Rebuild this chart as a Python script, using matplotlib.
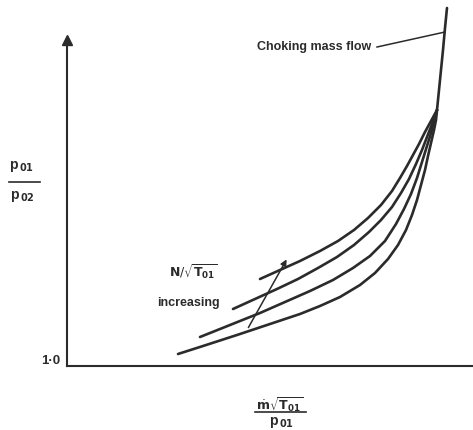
import matplotlib.pyplot as plt

# Compressor characteristic (schematic): pressure ratio vs non-dimensional mass flow.
# Values in arbitrary units.

# constant N/sqrt(T01) lines, lowest speed first
flow_1 = [1.11, 1.36, 1.70, 2.03, 2.33, 2.53, 2.73, 2.93, 3.08, 3.21, 3.31,
          3.39, 3.45, 3.50, 3.54, 3.58, 3.61, 3.64, 3.67, 3.69, 3.70]
ratio_1 = [1.12, 1.20, 1.31, 1.42, 1.52, 1.60, 1.69, 1.81, 1.93, 2.07, 2.21,
           2.36, 2.51, 2.66, 2.81, 2.96, 3.10, 3.23, 3.36, 3.46, 3.56]

flow_2 = [1.33, 1.63, 1.93, 2.18, 2.43, 2.66, 2.86, 3.03, 3.18,
          3.29, 3.37, 3.44, 3.50, 3.55, 3.60, 3.64, 3.67, 3.70]
ratio_2 = [1.29, 1.41, 1.53, 1.64, 1.75, 1.86, 1.98, 2.10, 2.25,
           2.42, 2.57, 2.72, 2.88, 3.04, 3.20, 3.33, 3.44, 3.56]

flow_3 = [1.66, 1.88, 2.10, 2.31, 2.51, 2.70, 2.87, 3.02, 3.14,
          3.25, 3.34, 3.42, 3.49, 3.55, 3.60, 3.65, 3.70]
ratio_3 = [1.57, 1.67, 1.77, 1.87, 1.98, 2.09, 2.21, 2.34, 2.46,
           2.59, 2.73, 2.87, 3.02, 3.16, 3.29, 3.42, 3.56]

flow_4 = [1.93, 2.13, 2.33, 2.53, 2.71, 2.87, 3.01, 3.14,
          3.25, 3.33, 3.40, 3.46, 3.52, 3.58, 3.64, 3.70]
ratio_4 = [1.87, 1.96, 2.05, 2.15, 2.25, 2.36, 2.48, 2.61,
           2.75, 2.88, 3.00, 3.11, 3.22, 3.34, 3.45, 3.56]

# choking mass flow line (all speed lines merge into it)
choke_flow = [3.70, 3.72, 3.74, 3.76, 3.78, 3.80]
choke_ratio = [3.56, 3.76, 3.96, 4.16, 4.38, 4.58]

INK = "#2b2b2b"
FONT = dict(family=["Liberation Sans", "DejaVu Sans"], weight="bold", color=INK)
plt.rcParams["mathtext.fontset"] = "dejavusans"

fig = plt.figure(figsize=(4.73, 4.30), dpi=100)
ax = fig.add_axes([67 / 473, 64 / 430, (473 - 67) / 473, (366 - 10) / 430])
ax.set_xlim(0, 4.06)
ax.set_ylim(1.0, 4.56)

line_kw = dict(color=INK, lw=1.9, solid_capstyle="round", solid_joinstyle="round", clip_on=False)
for fx, fy in [(flow_1, ratio_1), (flow_2, ratio_2), (flow_3, ratio_3), (flow_4, ratio_4)]:
    ax.plot(fx, fy, **line_kw)
ax.plot(choke_flow, choke_ratio, **line_kw)

# axes: only left and bottom, y axis ends in an arrow
for side in ("top", "right"):
    ax.spines[side].set_visible(False)
for side in ("left", "bottom"):
    ax.spines[side].set_color(INK)
    ax.spines[side].set_linewidth(1.5)
ax.spines["left"].set_bounds(1.0, 4.24)
ax.plot([0], [4.26], marker="^", ms=7, color=INK, clip_on=False)

ax.set_xticks([])
ax.set_yticks([])
ax.text(-0.07, 1.05, "1·0", ha="right", va="center", fontsize=9.5, **FONT)

# axis labels as stacked fractions
ax.text(-0.45, 2.99, r"p$_{\,\mathbf{01}}$", ha="center", va="center", fontsize=10, **FONT)
ax.plot([-0.58, -0.27], [2.84, 2.84], color=INK, lw=1.2, clip_on=False)
ax.text(-0.45, 2.70, r"p$_{\,\mathbf{02}}$", ha="center", va="center", fontsize=10, **FONT)

ax.text(2.13, 0.61, r"$\dot{\mathbf{m}}\sqrt{\mathbf{T_{01}}}$", ha="center", va="center",
        fontsize=9, color=INK)
ax.plot([1.88, 2.39], [0.54, 0.54], color=INK, lw=1.2, clip_on=False)
ax.text(2.15, 0.43, r"p$_{\,\mathbf{01}}$", ha="center", va="center", fontsize=10, **FONT)

# choking annotation
ax.text(3.04, 4.19, "Choking mass flow", ha="right", va="center", fontsize=9, **FONT)
ax.plot([3.10, 3.78], [4.19, 4.34], color=INK, lw=1.1, clip_on=False)

# speed-line annotation
ax.text(1.26, 1.94, r"$\mathbf{N}/\sqrt{\mathbf{T_{01}}}$", ha="center", va="center",
        fontsize=9, color=INK)
ax.text(1.21, 1.63, "increasing", ha="center", va="center", fontsize=9, **FONT)
ax.annotate("", xy=(2.21, 2.09), xytext=(1.80, 1.36),
            arrowprops=dict(arrowstyle="-|>", color=INK, lw=1.1, mutation_scale=9))

fig.savefig("out.png", dpi=100)
